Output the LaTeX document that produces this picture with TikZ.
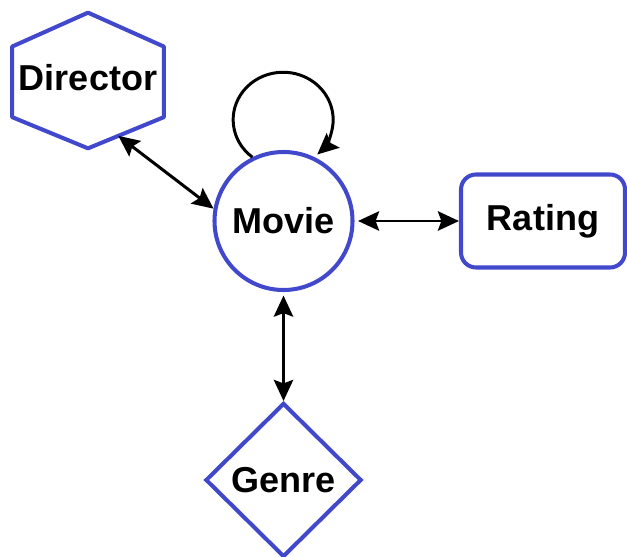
\documentclass[tikz,border=0pt]{standalone}
\usepackage{fontspec}
\setmainfont{Liberation Sans}
\usetikzlibrary{arrows.meta,shapes.geometric,calc}

\definecolor{entityblue}{RGB}{66,72,204}

\begin{document}
\begin{tikzpicture}[
    entity/.style={draw=entityblue,line width=2.3pt,fill=white,inner sep=0pt,
                   font=\fontsize{20.5}{24}\selectfont\bfseries},
    link/.style={line width=1.7pt,black,
                 {Stealth[length=12pt,width=11pt,inset=2pt]}-{Stealth[length=12pt,width=11pt,inset=2pt]}},
    loopline/.style={line width=1.7pt,black,-{Stealth[length=12pt,width=11pt,inset=2pt]}}
  ]

    % Fix the page size
    \useasboundingbox (0,0) rectangle (12.54,-11.12);

    % Draw the movie entity (circle in the middle)
    \node[entity,circle,minimum size=2.76cm] (movie) at (5.67,-4.42) {Movie};

    % Draw the director entity (hexagon drawn round its node)
    \node[font=\fontsize{20.5}{24}\selectfont\bfseries,inner sep=0pt,
          minimum width=3.02cm,minimum height=2.7cm] (director) at (1.76,-1.61) {};
    \draw[entityblue,line width=2.3pt,line join=round,fill=white]
        (director.north)
        -- ($(director.north west)!.25!(director.south west)$)
        -- ($(director.north west)!.77!(director.south west)$)
        -- (director.south) coordinate (dir-s)
        -- ($(director.north east)!.77!(director.south east)$) coordinate (dir-se)
        -- ($(director.north east)!.25!(director.south east)$)
        -- cycle;
    \node[font=\fontsize{20.5}{24}\selectfont\bfseries] at ($(director)+(0,0.06)$) {Director};

    % Draw the rating entity (rounded box on the right)
    \node[entity,rectangle,rounded corners=0.3cm,minimum width=3.28cm,
          minimum height=1.86cm] (rating) at (10.86,-4.42) {Rating};

    % Draw the genre entity (diamond at the bottom)
    \node[entity,diamond,minimum width=3.12cm,minimum height=3.08cm] (genre) at (5.67,-9.6) {Genre};

    % Draw the links between the entities
    \draw[link] ($(dir-s)!.4!(dir-se)$) -- (movie.170);
    \draw[link] ([xshift=2pt]movie.east) -- (rating.west);
    \draw[link] ([yshift=-2pt]movie.south) -- (genre.north);

    % Draw the self loop on top of the movie
    \draw[loopline] (movie.116) arc[start angle=232,end angle=-47,x radius=1cm,y radius=0.95cm];

\end{tikzpicture}
\end{document}
